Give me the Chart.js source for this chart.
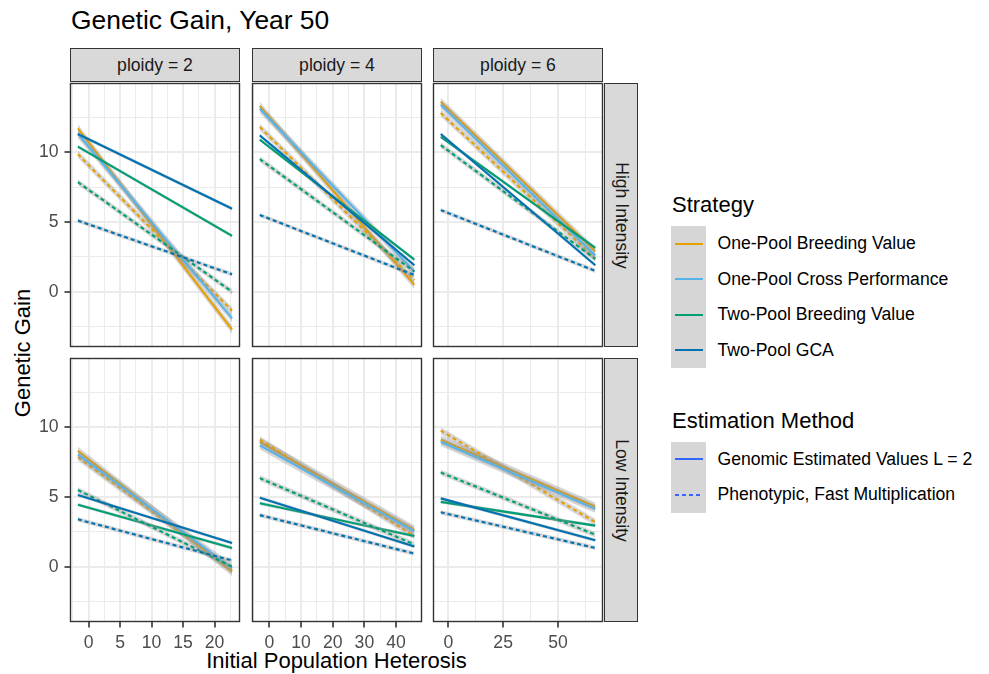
<!DOCTYPE html>
<html>
<head>
<meta charset="utf-8">
<script src="https://cdn.jsdelivr.net/npm/chart.js@4"></script>
<style>
  body { margin: 0; background: #fff; }
  #fig { position: relative; width: 989px; height: 674px; overflow: hidden;
         font-family: "Liberation Sans", Arial, sans-serif; color: #000; background: #fff; }
  .abs { position: absolute; white-space: nowrap; }
  .strip { position: absolute; box-sizing: border-box; background: #D9D9D9; border: 1.3px solid #333;
           color: #1A1A1A; font-size: 17.6px; display: flex; align-items: center; justify-content: center; }
  .keybox { position: absolute; background: #D6D6D6; }
  canvas { position: absolute; }
</style>
</head>
<body>
<div id="fig"></div>
<script>
// ---- data ----
const strategies = ['One-Pool Breeding Value', 'One-Pool Cross Performance', 'Two-Pool Breeding Value', 'Two-Pool GCA'];
const methods = ['Genomic Estimated Values L = 2', 'Phenotypic, Fast Multiplication'];
const ploidies = [2, 4, 6];
const intensities = ['High Intensity', 'Low Intensity'];

// heterosis range covered by the fitted lines, per ploidy
const heterosisStart = [-1.7, -3.05, -3.45];
const heterosisEnd = [22.8, 45.8, 67.0];

const xMajorTicks = [[0, 5, 10, 15, 20], [0, 10, 20, 30, 40], [0, 25, 50]];
const xMinorTicks = [[-2.5, 2.5, 7.5, 12.5, 17.5, 22.5], [-5, 5, 15, 25, 35, 45], [12.5, 37.5, 62.5]];
const xLimits = [[-2.95, 24.05], [-5.5, 48.2], [-6.97, 70.5]];
const yMajorTicks = [0, 5, 10];
const yMinorTicks = [-2.5, 2.5, 7.5, 12.5];
const yLimits = [-3.95, 14.95];

// genetic gain at [start, end] of heterosis range; rows = strategy, cols = ploidy 2, 4, 6
const genomicHigh = [
  [[11.7, -2.7], [13.3, 0.5], [13.6, 2.9]],
  [[11.3, -1.9], [13.1, 1.45], [13.4, 2.6]],
  [[10.4, 4.0], [10.9, 2.3], [11.1, 3.15]],
  [[11.3, 5.95], [11.2, 1.9], [11.3, 1.9]]
];
// no phenotypic line for One-Pool Cross Performance
const phenoHigh = [
  [[9.85, -1.35], [11.8, 0.85], [12.8, 2.4]],
  null,
  [[7.85, 0.0], [9.5, 1.45], [10.5, 2.35]],
  [[5.1, 1.25], [5.5, 1.2], [5.85, 1.5]]
];
const genomicLow = [
  [[8.3, -0.35], [8.95, 2.65], [9.1, 4.3]],
  [[8.05, -0.1], [8.7, 2.55], [8.95, 4.15]],
  [[4.45, 1.35], [4.55, 2.2], [4.65, 2.95]],
  [[5.15, 1.7], [4.95, 1.45], [4.9, 1.9]]
];
const phenoLow = [
  [[7.85, -0.25], [9.1, 2.2], [9.75, 3.2]],
  null,
  [[5.5, 0.0], [6.35, 1.6], [6.75, 2.3]],
  [[3.4, 0.45], [3.7, 0.95], [3.9, 1.35]]
];
// half width of the confidence band, per strategy
const bandGenomic = [0.3, 0.3, 0.12, 0.12];
const bandPheno = [0.25, 0, 0.2, 0.15];

// ---- styling ----
const colors = ['#E69F00', '#56B4E9', '#009E73', '#0072B2'];
const methodKeyColor = '#3366FF';
const BAND = 'rgba(153,153,153,0.4)';
const FONT = '"Liberation Sans", Arial, sans-serif';
const colLeft = [70, 252, 433];
const rowTop = [83, 358];
const PANEL_W = 170, PANEL_H = 264;
const AXIS_W = 70, AXIS_H = 45, PAD_T = 3, PAD_R = 3;

const fig = document.getElementById('fig');

function addText(txt, css) {
  const d = document.createElement('div');
  d.className = 'abs';
  d.textContent = txt;
  Object.assign(d.style, css);
  fig.appendChild(d);
  return d;
}

// titles
addText('Genetic Gain, Year 50', { left: '71px', top: '7px', fontSize: '26.4px', lineHeight: '26.4px' });
addText('Initial Population Heterosis', { left: '336.5px', top: '650px', fontSize: '22px', lineHeight: '22px', transform: 'translateX(-50%)' });
addText('Genetic Gain', { left: '23px', top: '352.5px', fontSize: '22px', lineHeight: '22px', transform: 'translate(-50%,-50%) rotate(-90deg)' });

// strips
ploidies.forEach((p, c) => {
  const s = document.createElement('div');
  s.className = 'strip';
  Object.assign(s.style, { left: colLeft[c] + 'px', top: '48px', width: PANEL_W + 'px', height: '34px' });
  s.textContent = 'ploidy = ' + p;
  fig.appendChild(s);
});
intensities.forEach((name, r) => {
  const s = document.createElement('div');
  s.className = 'strip';
  Object.assign(s.style, { left: '604px', top: rowTop[r] + 'px', width: '34px', height: PANEL_H + 'px' });
  const t = document.createElement('div');
  t.textContent = name;
  t.style.transform = 'rotate(90deg)';
  t.style.whiteSpace = 'nowrap';
  s.appendChild(t);
  fig.appendChild(s);
});

// legend
function keyLine(x, y, color, dashed) {
  const ns = 'http://www.w3.org/2000/svg';
  const svg = document.createElementNS(ns, 'svg');
  svg.setAttribute('width', '30');
  svg.setAttribute('height', '6');
  svg.style.position = 'absolute';
  svg.style.left = x + 'px';
  svg.style.top = (y - 3) + 'px';
  const l = document.createElementNS(ns, 'line');
  l.setAttribute('x1', '1'); l.setAttribute('x2', '29');
  l.setAttribute('y1', '3'); l.setAttribute('y2', '3');
  l.setAttribute('stroke', color);
  l.setAttribute('stroke-width', '2');
  if (dashed) l.setAttribute('stroke-dasharray', '4 3');
  svg.appendChild(l);
  fig.appendChild(svg);
}
function legendBlock(title, titleTop, labels, keyColors, dashes) {
  addText(title, { left: '672px', top: titleTop + 'px', fontSize: '22px', lineHeight: '22px' });
  const boxTop = titleTop + 32;
  const kb = document.createElement('div');
  kb.className = 'keybox';
  Object.assign(kb.style, { left: '671px', top: boxTop + 'px', width: '35px', height: (labels.length * 35.5) + 'px' });
  fig.appendChild(kb);
  labels.forEach((lab, i) => {
    const cy = boxTop + 17.75 + 35.5 * i;
    keyLine(674, cy, keyColors[i], dashes[i]);
    addText(lab, { left: '717.5px', top: (cy - 17.75) + 'px', fontSize: '17.6px', lineHeight: '35.5px' });
  });
}
legendBlock('Strategy', 194, strategies, colors, [false, false, false, false]);
legendBlock('Estimation Method', 409.5, methods, [methodKeyColor, methodKeyColor], [false, true]);

// panels
const panelFrame = {
  id: 'panelFrame',
  afterDraw(chart) {
    const { ctx, chartArea: a } = chart;
    ctx.save();
    ctx.strokeStyle = '#333';
    ctx.lineWidth = 1.4;
    ctx.strokeRect(a.left + 0.5, a.top + 0.5, a.right - a.left - 1, a.bottom - a.top - 1);
    ctx.restore();
  }
};

function panelDatasets(col, row) {
  const xs = [heterosisStart[col], heterosisEnd[col]];
  const genomic = row === 0 ? genomicHigh : genomicLow;
  const pheno = row === 0 ? phenoHigh : phenoLow;
  const sets = [];
  let g = 0;
  strategies.forEach((s, si) => {
    methods.forEach((m, mi) => {
      const src = (mi === 0 ? genomic : pheno)[si];
      if (!src) return;
      const ys = src[col];
      const hw = (mi === 0 ? bandGenomic : bandPheno)[si];
      const order = 100 - g * 3;
      sets.push({ data: xs.map((x, k) => ({ x, y: ys[k] + hw })), borderColor: 'transparent', borderWidth: 0, fill: false, order: order });
      sets.push({ data: xs.map((x, k) => ({ x, y: ys[k] - hw })), borderColor: 'transparent', borderWidth: 0, fill: '-1', backgroundColor: BAND, order: order - 1 });
      sets.push({ label: s + ' / ' + m, data: xs.map((x, k) => ({ x, y: ys[k] })), borderColor: colors[si], borderWidth: 2.1,
                  borderDash: mi ? [4, 3] : [], fill: false, order: order - 2 });
      g++;
    });
  });
  return sets;
}

function axisOptions(limits, majors, minors, showLabels, isX) {
  const all = majors.concat(minors).sort((a, b) => a - b);
  return {
    type: 'linear',
    min: limits[0],
    max: limits[1],
    afterBuildTicks: s => { s.ticks = all.map(v => ({ value: v })); },
    afterFit: s => {
      if (isX) s.height = AXIS_H; else s.width = AXIS_W;
      s.paddingTop = 0; s.paddingBottom = 0; s.paddingLeft = 0; s.paddingRight = 0;
    },
    ticks: {
      display: showLabels,
      autoSkip: false,
      maxRotation: 0,
      padding: isX ? 5 : 6,
      color: '#4D4D4D',
      font: { family: FONT, size: 17.6 },
      callback: v => majors.includes(v) ? String(v) : ''
    },
    grid: {
      color: '#EBEBEB',
      lineWidth: ctx => (ctx.tick && majors.includes(ctx.tick.value)) ? 2 : 1,
      drawTicks: showLabels,
      tickLength: 5.5,
      tickWidth: 1.6,
      tickColor: ctx => (ctx.tick && majors.includes(ctx.tick.value)) ? '#333' : 'rgba(0,0,0,0)'
    },
    border: { display: false }
  };
}

intensities.forEach((name, r) => {
  ploidies.forEach((p, c) => {
    const cv = document.createElement('canvas');
    const w = PANEL_W + AXIS_W + PAD_R, h = PANEL_H + PAD_T + AXIS_H;
    cv.width = w; cv.height = h;
    cv.style.left = (colLeft[c] - AXIS_W) + 'px';
    cv.style.top = (rowTop[r] - PAD_T) + 'px';
    cv.style.width = w + 'px';
    cv.style.height = h + 'px';
    fig.appendChild(cv);
    new Chart(cv.getContext('2d'), {
      type: 'line',
      data: { datasets: panelDatasets(c, r) },
      options: {
        responsive: false,
        animation: false,
        devicePixelRatio: 1,
        layout: { padding: { left: 0, top: PAD_T, right: PAD_R, bottom: 0 } },
        elements: { point: { radius: 0 }, line: { tension: 0 } },
        plugins: { legend: { display: false }, tooltip: { enabled: false } },
        scales: {
          x: axisOptions(xLimits[c], xMajorTicks[c], xMinorTicks[c], r === 1, true),
          y: axisOptions(yLimits, yMajorTicks, yMinorTicks, c === 0, false)
        }
      },
      plugins: [panelFrame]
    });
  });
});
</script>
</body>
</html>
